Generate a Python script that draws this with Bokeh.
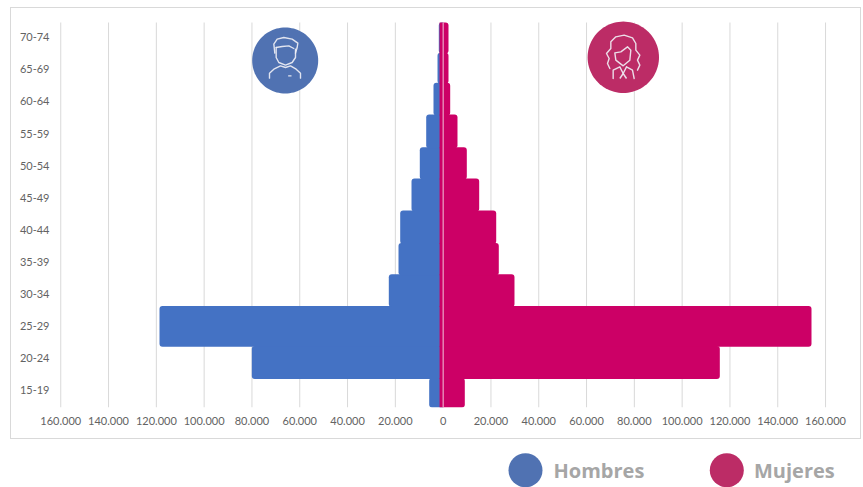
import math
from bokeh.embed import file_html
from bokeh.resources import INLINE
from bokeh.plotting import figure
from bokeh.core.properties import value
from bokeh.models import (Range1d, LinearAxis, FixedTicker, PolyAnnotation, ColumnDataSource)

age_groups = ["15-19", "20-24", "25-29", "30-34", "35-39", "40-44",
              "45-49", "50-54", "55-59", "60-64", "65-69", "70-74"]
hombres = [5840, 80060, 118680, 22740, 18680, 17970, 13240, 9770, 7090, 4040, 2360, 1820]
mujeres = [9060, 115760, 154120, 29850, 23280, 22200, 15080, 9900, 6000, 2950, 2240, 2240]
x_ticks = [-160000, -140000, -120000, -100000, -80000, -60000, -40000, -20000, 0,
           20000, 40000, 60000, 80000, 100000, 120000, 140000, 160000]
x_tick_labels = ["160.000", "140.000", "120.000", "100.000", "80.000", "60.000", "40.000", "20.000", "0",
                 "20.000", "40.000", "60.000", "80.000", "100.000", "120.000", "140.000", "160.000"]
legend_names = ["Hombres", "Mujeres"]

# layout constants
W, H = 849, 430
OX, OY = 11, 8  # page offset of the main canvas
FRAME_L, FRAME_R, FRAME_T, FRAME_B = 39, 829, 11, 399
PX_PER_UNIT = 0.00239
ZERO_PAGE = 442.65
band_edges = [0, 0.89, 1.89, 3.13, 4.12, 5.1, 6.11, 7.11, 8.08, 9.1, 10.09, 11.03, 12]
OVERLAP = 1500
BLUE, PINK = "#4472C4", "#CC0066"
BLUE_C, PINK_C = "#5072B2", "#BC2C66"
TXT = "#636363"
FONT = "Lato"

units_per_px = 12 / (FRAME_B - FRAME_T - 3)
p = figure(width=W, height=H, output_backend="svg", toolbar_location=None,
           x_axis_location=None, y_axis_location=None,
           min_border_left=FRAME_L, min_border_right=W - FRAME_R,
           min_border_top=FRAME_T, min_border_bottom=H - FRAME_B,
           x_range=Range1d((FRAME_L + OX - ZERO_PAGE) / PX_PER_UNIT,
                           (FRAME_R + OX - ZERO_PAGE) / PX_PER_UNIT),
           y_range=Range1d(0, 12 + 3 * units_per_px),
           margin=(OY, 0, 0, OX),
           styles={"outline": "1px solid #d9d9d9"})
p.outline_line_color = None
p.background_fill_color = "white"
p.border_fill_color = "white"

xaxis = LinearAxis(ticker=FixedTicker(ticks=x_ticks),
                   major_label_overrides={t: l for t, l in zip(x_ticks, x_tick_labels)})
yticks = [i + 0.54 for i in range(len(age_groups))]
yaxis = LinearAxis(ticker=FixedTicker(ticks=yticks),
                   major_label_overrides={t: l for t, l in zip(yticks, age_groups)})
for ax, standoff in ((xaxis, 9), (yaxis, 1)):
    ax.axis_line_color = None
    ax.major_tick_line_color = None
    ax.minor_tick_line_color = None
    ax.major_tick_out = 0
    ax.major_tick_in = 0
    ax.major_label_text_font = FONT
    ax.major_label_text_font_size = "11px"
    ax.major_label_text_color = TXT
    ax.major_label_standoff = standoff
p.add_layout(xaxis, "below")
p.add_layout(yaxis, "left")

p.xgrid.visible = False
p.ygrid.visible = False
p.segment(x0=x_ticks, x1=x_ticks, y0=[0] * len(x_ticks), y1=[12] * len(x_ticks),
          line_color="#d9d9d9", line_width=1, level="underlay")

n = len(age_groups)
src = ColumnDataSource(dict(age=age_groups, men=[-v for v in hombres], women=mujeres,
                            zero=[0] * n, ov=[-OVERLAP] * n,
                            bottom=band_edges[:-1],
                            top=[e + 0.03 if i < n - 1 else e for i, e in enumerate(band_edges[1:])]))
p.quad(left="men", right="zero", bottom="bottom", top="top", source=src,
       fill_color=BLUE, line_color=None, border_radius=(3, 0, 0, 3))
p.quad(left="ov", right="women", bottom="bottom", top="top", source=src,
       fill_color=PINK, line_color=None, border_radius=(0, 3, 3, 0))
p.segment(x0=[0], x1=[0], y0=[0], y1=[12], line_color="#F2C6DC", line_width=1)


def canvas_poly(xs, ys, **kw):
    p.add_layout(PolyAnnotation(xs=[x - OX for x in xs], ys=[y - OY for y in ys],
                                xs_units="canvas", ys_units="canvas", **kw))


def disc(cx, cy, r, color):
    k = 96
    canvas_poly([cx + r * math.cos(2 * math.pi * i / k) for i in range(k)],
                [cy + r * math.sin(2 * math.pi * i / k) for i in range(k)],
                fill_color=color, fill_alpha=1, line_color=color, line_alpha=0)


def stroke(points, ox, oy):
    xs = [ox + a / 3 for a, _ in points]
    ys = [oy + b / 3 for _, b in points]
    canvas_poly(xs + xs[-2:0:-1], ys + ys[-2:0:-1], fill_alpha=0, line_color="#F1F1F6",
                line_alpha=0.9, line_width=1.4, line_join="round")


disc(284.7, 60, 33, BLUE_C)
disc(622.8, 56.8, 35.7, PINK_C)

male = [
    [(88, 92), (85, 65), (95, 50), (115, 45), (140, 50), (157, 62), (155, 75), (150, 92)],
    [(92, 75), (92, 105), (100, 120), (120, 128), (140, 120), (150, 105), (150, 80)],
    [(92, 75), (110, 72), (130, 70), (145, 78)],
    [(72, 167), (72, 152), (85, 140), (105, 130), (120, 135), (135, 130), (152, 140), (165, 152), (165, 167)],
    [(128, 160), (138, 160)],
]
for path in male:
    stroke(path, 245, 22)

female = [
    [(82, 150), (75, 135), (80, 120), (72, 105), (85, 90), (85, 70), (100, 55), (125, 50),
     (150, 58), (160, 75), (160, 95), (172, 110), (165, 125), (172, 140), (165, 155)],
    [(97, 103), (100, 125), (122, 142), (142, 125), (145, 95), (135, 85), (115, 100), (97, 103)],
    [(92, 180), (92, 155), (112, 145), (122, 165), (132, 145), (150, 155), (155, 180)],
    [(122, 165), (112, 180)],
    [(122, 165), (132, 180)],
]
for path in female:
    stroke(path, 582, 18)

# legend strip below the chart box
leg = figure(width=863, height=48, output_backend="svg", toolbar_location=None,
             x_axis_location=None, y_axis_location=None, min_border=0,
             x_range=Range1d(0, 863), y_range=Range1d(487, 439), margin=(1, 0, 0, 0))
leg.outline_line_color = None
leg.xgrid.visible = False
leg.ygrid.visible = False
leg.scatter(x=[525, 726.3], y=[469.7, 469.7], size=34, marker="circle",
            fill_color=[BLUE_C, PINK_C], line_color=None)
leg.text(x=[553, 753.5], y=[470.3, 470.3], text=legend_names, text_font=value("Open Sans"),
         text_font_style="bold", text_font_size="20px", text_color="#A6A6A6",
         text_baseline="middle", text_align="left")

open("out.html", "w").write(file_html([p, leg], INLINE))
